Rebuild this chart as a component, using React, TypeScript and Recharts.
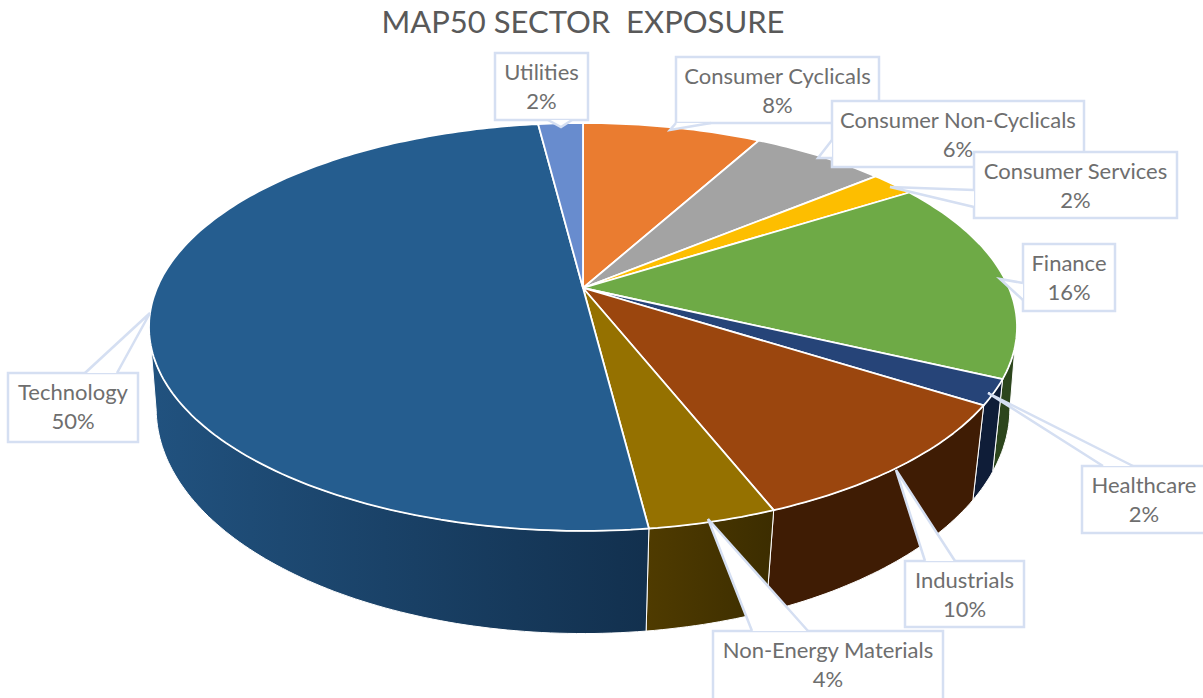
import { Pie, PieChart } from "recharts";

const sectors = [
  "Consumer Cyclicals",
  "Consumer Non-Cyclicals",
  "Consumer Services",
  "Finance",
  "Healthcare",
  "Industrials",
  "Non-Energy Materials",
  "Technology",
  "Utilities",
];
const exposure = [8, 6, 2, 16, 2, 10, 4, 50, 2];

const topColors = ["#ea7c30", "#a3a3a3", "#fdbe00", "#6eaa46", "#264478", "#9b460e", "#957100", "#255d8f", "#688cce"];
const wallFrom = ["#5e3114", "#424242", "#664d00", "#2c451c", "#0f1d38", "#3f1c04", "#4f3b00", "#21527f", "#2a3853"];
const wallTo = ["#5e3114", "#424242", "#664d00", "#2c451c", "#0f1d38", "#3f1c04", "#3c2d00", "#12304e", "#2a3853"];

// callout boxes: x0, y0, x1, y1, then the pointer as base point, tip, base point
const callouts = [
  { box: [676, 57, 879, 123], ptr: [[676, 123], [670, 130], [711, 123]] },
  { box: [832, 101, 1084, 167], ptr: [[832, 140], [818, 158], [832, 158]] },
  { box: [974, 152, 1177, 218], ptr: [[974, 190], [890, 187], [974, 207]] },
  { box: [1023, 244, 1115, 311], ptr: [[1023, 283], [1000, 279], [1023, 300]] },
  { box: [1082, 466, 1206, 533], ptr: [[1103, 466], [988, 393], [1133, 466]] },
  { box: [905, 561, 1024, 627], ptr: [[925, 561], [896, 470], [955, 561]] },
  { box: [713, 631, 943, 700], ptr: [[752, 631], [708, 519], [808, 631]] },
  { box: [8, 373, 138, 442], ptr: [[85, 373], [150, 313], [117, 373]] },
  { box: [495, 53, 588, 120], ptr: [[548, 120], [561, 127], [572, 120]] },
];

const tableData = sectors.map((name, i) => ({ name, value: exposure[i] }));

const FONT = "Lato, 'Open Sans', sans-serif";
const BORDER = "#d5dff2";

// the pie is photographed in perspective, so the disc goes through a projective map
function project(deg: number, k: number, a: number, A: number, B: number, cx: number) {
  const t = (deg * Math.PI) / 180;
  const u = Math.sin(t);
  const v = -Math.cos(t);
  const w = 1 - a * v;
  return [cx + (k * u) / w, (A * v + B) / w];
}
const topRim = (deg: number, cx: number, cy: number) => project(deg, 426, 0.191, 141.5, cy, cx);
const bottomRim = (deg: number, cx: number, cy: number) => project(deg, 421, 0.165, 157.7, cy + 83.3, cx);

function arc(from: number, to: number, rim: (d: number) => number[]) {
  const pts: string[] = [];
  const steps = Math.max(2, Math.ceil(Math.abs(to - from)));
  for (let i = 0; i <= steps; i++) {
    const p = rim(from + ((to - from) * i) / steps);
    pts.push(`${p[0].toFixed(1)} ${p[1].toFixed(1)}`);
  }
  return pts;
}

function Slice(props: any) {
  const { cx, cy, startAngle, endAngle, index } = props;
  const a0 = 90 - startAngle;
  const a1 = 90 - endAngle;
  const top = (d: number) => topRim(d, cx, cy);
  const bot = (d: number) => bottomRim(d, cx, cy);
  const w0 = Math.max(a0, 100);
  const w1 = Math.min(a1, 260);
  return (
    <g>
      {w1 > w0 && (
        <path
          d={`M${arc(w0, w1, top).join("L")}L${arc(w1, w0, bot).join("L")}Z`}
          fill={`url(#wall${index})`}
          stroke="#fff"
          strokeWidth={1}
        />
      )}
      <path
        d={`M${cx} ${cy}L${arc(a0, a1, top).join("L")}Z`}
        fill={topColors[index]}
        stroke="#fff"
        strokeWidth={1.8}
        strokeLinejoin="round"
      />
    </g>
  );
}

function Callout(props: any) {
  const { index, name, value } = props;
  const { box, ptr } = callouts[index];
  const [x0, y0, x1, y1] = box;
  const mid = (x0 + x1) / 2;
  return (
    <g>
      <rect x={x0} y={y0} width={x1 - x0} height={y1 - y0} fill="#fff" stroke={BORDER} strokeWidth={2.5} />
      <polygon points={ptr.map((p) => p.join(",")).join(" ")} fill="#fff" />
      <polyline points={ptr.map((p) => p.join(",")).join(" ")} fill="none" stroke={BORDER} strokeWidth={2.5} />
      <text x={mid} y={y0 + 27} textAnchor="middle" fontFamily={FONT} fontSize={22} fill="#6e6e6e">
        {name}
      </text>
      <text x={mid} y={y0 + 56} textAnchor="middle" fontFamily={FONT} fontSize={22} fill="#6e6e6e">
        {`${value}%`}
      </text>
    </g>
  );
}

export default function App() {
  return (
    <div style={{ position: "absolute", left: 0, top: 0, width: 1203, height: 698, background: "#fff" }}>
      <PieChart width={1203} height={698} margin={{ top: 0, right: 0, bottom: 0, left: 0 }}>
        <defs>
          {wallFrom.map((c, i) => (
            <linearGradient key={i} id={`wall${i}`} x1="0" y1="0" x2="1" y2="0">
              <stop offset="0%" stopColor={c} />
              <stop offset="100%" stopColor={wallTo[i]} />
            </linearGradient>
          ))}
        </defs>
        <text x={583} y={33} textAnchor="middle" fontFamily={FONT} fontSize={31} fill="#595959" xmlSpace="preserve">
          MAP50 SECTOR  EXPOSURE
        </text>
        <Pie
          data={tableData}
          dataKey="value"
          nameKey="name"
          cx={583}
          cy={288}
          outerRadius={200}
          startAngle={90}
          endAngle={-270}
          stroke="none"
          shape={Slice}
          label={Callout}
          labelLine={false}
          isAnimationActive={false}
        />
      </PieChart>
    </div>
  );
}
